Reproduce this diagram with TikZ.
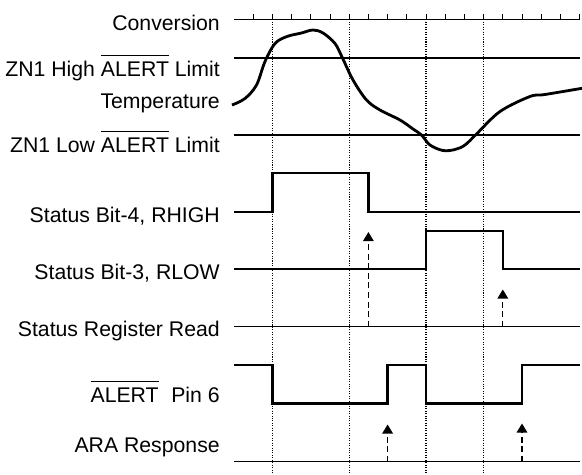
\documentclass[tikz,border=0pt]{standalone}
\usepackage{fontspec}
\setmainfont{Liberation Sans}
\usetikzlibrary{arrows.meta}
\newcommand{\barred}[1]{\leavevmode\vbox{\hrule height 0.6pt\kern 4.4pt\hbox{#1}}}

\begin{document}
\begin{tikzpicture}[
  x=0.025cm, y=-0.025cm,
  font=\fontsize{15.1}{18}\selectfont,
  lbl/.style={anchor=base east, inner sep=0pt},
  sig/.style={line width=1.7pt, line join=miter},
  rail/.style={line width=0.7pt},
  gridline/.style={line width=0.75pt, dash pattern=on 0.75pt off 1pt},
  readarr/.style={line width=0.9pt, dash pattern=on 4.3pt off 2.5pt,
                  -{Triangle[length=6.4pt, width=7.5pt]}}
]
\useasboundingbox (0,0) rectangle (582,474);
% labels
\node[lbl] (lconv) at (220,30.8) {Conversion};
\node[lbl] (lhigh) at (220,76.7) {ZN1 High \barred{ALERT} Limit};
\node[lbl] (ltemp) at (220,108.3) {Temperature};
\node[lbl] (llow) at (220,152.3) {ZN1 Low \barred{ALERT} Limit};
\node[lbl] (lbit4) at (220,222.5) {Status Bit-4, RHIGH};
\node[lbl] (lbit3) at (220,279) {Status Bit-3, RLOW};
\node[lbl] (lsrr) at (220,336.7) {Status Register Read};
\node[lbl] (lalert) at (220,402.7) {\barred{ALERT}\hspace{9pt}Pin 6};
\node[lbl] (lara) at (220,452.7) {ARA Response};
% conversion clock and dotted guides
\foreach \k in {2,6,10,13}
  \draw[gridline] (234+19.2*\k,19.3) -- (234+19.2*\k,474);
\draw[rail] (234,19.3) -- (579.6,19.3);
\foreach \k in {1,...,18}
  \draw[rail] (234+19.2*\k,19.3) -- ++(0,-5);
% limits and temperature
\draw[sig] (234,58) -- (579.6,58);
\draw[sig] (234,134.8) -- (579.6,134.8);
\draw[sig, line width=2pt] plot[smooth, tension=0.55] coordinates {
  (232,105) (245,98.5) (256.5,85) (265,61.5) (275,43.5) (287,36.5) (301.5,33)
  (313,30) (323,33) (335,43.5) (342,57) (353,80) (366.5,100) (380,110) (400,120)
  (413,129) (421.5,135) (430,145) (443,150.5) (455,149.5) (465,145) (476.5,134)
  (500,111.5) (530,96.5) (545,94.5) (582,88.3)};
% status bits
\draw[sig] (234,211.7) -| (272.4,172.7) -| (368.4,211.7) -- (579.6,211.7);
\draw[sig] (234,268.7) -| (426,230.7) -| (502.8,268.7) -- (579.6,268.7);
% status register read
\draw[rail] (234,326.7) -- (579.6,326.7);
\coordinate (rd1) at (368.4,326.7);
\coordinate (rd2) at (502.8,326.7);
\draw[rail] (rd1) -- ++(0,-3.5);
\draw[rail] (rd2) -- ++(0,-3.5);
\coordinate (clr4) at (368.4,232);
\coordinate (clr3) at (502.8,289.5);
\draw[readarr] (rd1) -- (clr4);
\draw[readarr] (rd2) -- (clr3);
% alert pin and ARA
\draw[sig] (234,365) -| (272.4,403.3) -| (387.6,365) -| (426,403.3) -| (522,365) -- (579.6,365);
\draw[rail] (234,461.7) -- (579.6,461.7);
\coordinate (ara1) at (387.6,461.7);
\coordinate (ara2) at (522,461.7);
\coordinate (rel1) at (387.6,424.5);
\coordinate (rel2) at (522,423.5);
\draw[readarr] (ara1) -- (rel1);
\draw[readarr] (ara2) -- (rel2);
\end{tikzpicture}
\end{document}
